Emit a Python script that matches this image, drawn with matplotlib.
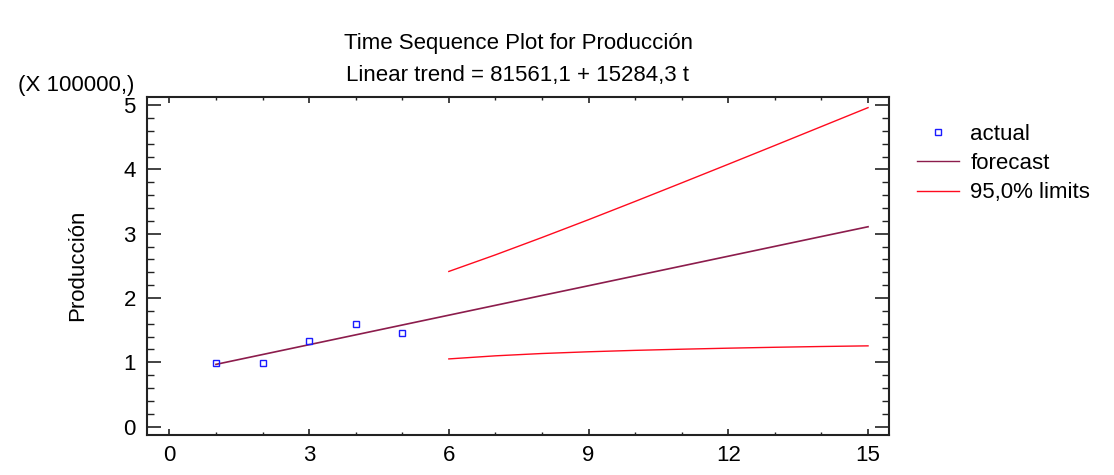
import matplotlib
matplotlib.use("Agg")
import matplotlib.pyplot as plt
from matplotlib.ticker import MultipleLocator, FixedLocator
from matplotlib.lines import Line2D

plt.rcParams['font.family'] = ['Liberation Sans', 'DejaVu Sans']

# Data (values in units of 100000)
t_actual = [1, 2, 3, 4, 5]
actual = [0.99, 0.99, 1.33, 1.593, 1.46]

t_forecast = [1, 2, 3, 4, 5, 6, 7, 8, 9, 10, 11, 12, 13, 14, 15]
forecast = [0.968, 1.121, 1.274, 1.427, 1.580, 1.733, 1.886, 2.039, 2.191,
             2.344, 2.497, 2.650, 2.803, 2.956, 3.108]

t_limits = [6, 7, 8, 9, 10, 11, 12, 13, 14, 15]
upper = [2.413, 2.671, 2.941, 3.218, 3.502, 3.790, 4.080, 4.372, 4.666, 4.960]
lower = [1.053, 1.101, 1.137, 1.164, 1.186, 1.204, 1.220, 1.234, 1.246, 1.256]

x_ticks = [0, 3, 6, 9, 12, 15]
y_ticks = [0, 1, 2, 3, 4, 5]

title1 = "Time Sequence Plot for Producción"
title2 = "Linear trend = 81561,1 + 15284,3 t"
ylabel = "Producción"
scale_note = "(X 100000,)"
legend_labels = ["actual", "forecast", "95,0% limits"]

c_forecast = "#8c1c4c"
c_limits = "#ff0a1e"
c_actual = "#1a1aff"

FS = 16

fig = plt.figure(figsize=(11.14, 4.75), dpi=100)
ax = fig.add_axes([147/1114, 1 - 435/475, (889-147)/1114, (435-96.7)/475])

ax.plot(t_forecast, forecast, color=c_forecast, lw=1.2)
ax.plot(t_limits, upper, color=c_limits, lw=1.0)
ax.plot(t_limits, lower, color=c_limits, lw=1.0)
ax.plot(t_actual, actual, linestyle='none', marker='s', markersize=4,
        markerfacecolor='none', markeredgecolor=c_actual, markeredgewidth=1.0)

ax.set_xlim(-0.48, 15.45)
ax.set_ylim(-0.13, 5.13)
ax.xaxis.set_major_locator(FixedLocator(x_ticks))
ax.xaxis.set_minor_locator(MultipleLocator(1))
ax.yaxis.set_major_locator(FixedLocator(y_ticks))
ax.yaxis.set_minor_locator(MultipleLocator(0.2))
ax.set_xticklabels([str(v) for v in x_ticks])
ax.set_yticklabels([str(v) for v in y_ticks])

for s in ax.spines.values():
    s.set_linewidth(1.5)
    s.set_color("#222222")

ax.tick_params(axis='x', which='major', direction='in', length=4.5, width=1.2,
               top=True, bottom=True, labelsize=FS, pad=7, colors="#222222", labelcolor='black')
ax.tick_params(axis='x', which='minor', direction='in', length=2.2, width=1.0,
               top=True, bottom=True, colors="#222222")
ax.tick_params(axis='y', which='major', direction='in', length=10, width=1.2,
               left=True, right=True, labelsize=FS, pad=8, colors="#222222", labelcolor='black')
ax.tick_params(axis='y', which='minor', direction='in', length=5, width=1.0,
               left=True, right=True, colors="#222222")

fig.text(518/1114, 1 - 43/475, title1, ha='center', va='center', fontsize=FS)
fig.text(518/1114, 1 - 75/475, title2, ha='center', va='center', fontsize=FS)
fig.text(18/1114, 1 - 86/475, scale_note, ha='left', va='center', fontsize=FS)
fig.text(78/1114, 1 - 265/475, ylabel, ha='center', va='center', rotation=90, fontsize=FS)

handles = [
    Line2D([], [], linestyle='none', marker='s', markersize=4, markerfacecolor='none',
           markeredgecolor=c_actual, markeredgewidth=1.0),
    Line2D([], [], color=c_forecast, lw=1.0),
    Line2D([], [], color=c_limits, lw=1.0),
]
fig.legend(handles, legend_labels, loc='upper left', bbox_to_anchor=(917/1114, 1 - 124/475),
           frameon=False, fontsize=FS, handlelength=1.9, handletextpad=0.5,
           labelspacing=0.37, borderaxespad=0, borderpad=0)

fig.savefig("out.png", dpi=100)
